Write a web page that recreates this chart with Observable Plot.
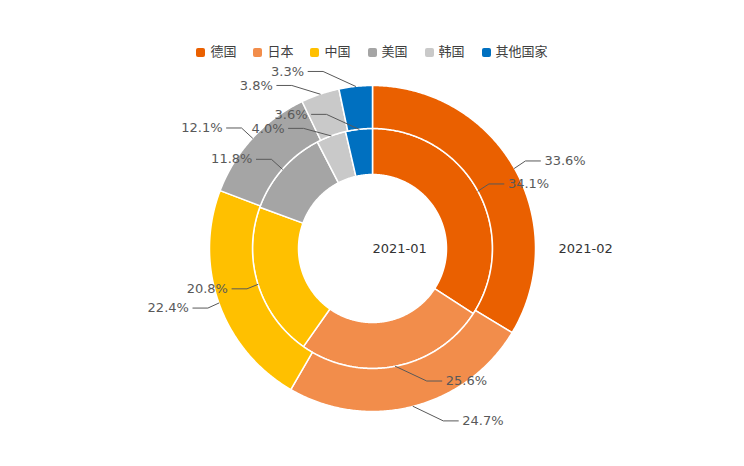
<!DOCTYPE html>
<html>
<head>
<meta charset="utf-8">
<script src="https://cdn.jsdelivr.net/npm/d3@7"></script>
<script src="https://cdn.jsdelivr.net/npm/@observablehq/plot@0.6"></script>
<style>
  html, body { margin: 0; padding: 0; background: #fff; }
  body { width: 744px; height: 466px; overflow: hidden; font-family: "DejaVu Sans", "Noto Sans CJK SC", sans-serif; }
  #legend { box-sizing: border-box; height: 62px; padding-top: 43px; display: flex; justify-content: center; align-items: flex-start; font-size: 13px; color: #404040; line-height: 18px; }
  #legend .item { display: flex; align-items: center; margin: 0 8.5px; }
  #legend .sw { width: 9px; height: 9px; border-radius: 2px; margin-right: 5px; }
  #chart svg { display: block; }
</style>
</head>
<body>
<div id="legend"></div>
<div id="chart"></div>
<script>
// ---- data ----
const countries = ["德国", "日本", "中国", "美国", "韩国", "其他国家"];
const colors = ["#EA6000", "#F28D4B", "#FFC000", "#A5A5A5", "#C9C9C9", "#0070C0"];
const seriesNames = ["2021-01", "2021-02"];
const values202101 = [34.1, 25.6, 20.8, 11.8, 4.0, 3.6];
const values202102 = [33.6, 24.7, 22.4, 12.1, 3.8, 3.3];

// ---- layout (style) ----
const W = 744, H = 404;
const cx = 372, cy = 186;
const rings = [
  {name: seriesNames[0], values: values202101, r0: 74, r1: 120},
  {name: seriesNames[1], values: values202102, r0: 120, r1: 163}
];
const leadOut = 15, hLen = 15, textGap = 4, minSpacing = 14;

// legend
const legend = document.getElementById("legend");
countries.forEach((c, i) => {
  const it = document.createElement("div");
  it.className = "item";
  it.innerHTML = `<span class="sw" style="background:${colors[i]}"></span><span>${c}</span>`;
  legend.appendChild(it);
});

// build geometry in data units (1 unit = 1 px, y up)
const polys = [];
const leaders = [];
const labelsR = [], labelsL = [];
rings.forEach((ring, ri) => {
  const total = d3.sum(ring.values);
  let acc = 0;
  const labs = [];
  ring.values.forEach((v, i) => {
    const a0 = acc / total * 2 * Math.PI;
    acc += v;
    const a1 = acc / total * 2 * Math.PI;
    const id = ri + "-" + i;
    const n = Math.max(4, Math.ceil((a1 - a0) / (Math.PI / 360)));
    const pts = [];
    for (let k = 0; k <= n; k++) {
      const a = a0 + (a1 - a0) * k / n;
      pts.push({id, country: countries[i], x: ring.r1 * Math.sin(a), y: ring.r1 * Math.cos(a)});
    }
    for (let k = n; k >= 0; k--) {
      const a = a0 + (a1 - a0) * k / n;
      pts.push({id, country: countries[i], x: ring.r0 * Math.sin(a), y: ring.r0 * Math.cos(a)});
    }
    pts.push({...pts[0]});
    polys.push(...pts);

    const am = (a0 + a1) / 2;
    const side = Math.sin(am) >= 0 ? 1 : -1;
    const ax = ring.r1 * Math.sin(am), ay = ring.r1 * Math.cos(am);
    const ly = (ring.r1 + leadOut) * Math.cos(am);
    const c = Math.abs(Math.cos(am));
    const dist = 30 + 22 * Math.max(0, (c - 0.75) / 0.25);
    labs.push({id, side, ax, ay, ly, dist, text: v.toFixed(1) + "%"});
  });
  // simple collision avoidance per side (push downward in screen = lower y value)
  [1, -1].forEach(s => {
    const group = labs.filter(d => d.side === s).sort((a, b) => b.ly - a.ly);
    for (let k = 1; k < group.length; k++) {
      if (group[k - 1].ly - group[k].ly < minSpacing) group[k].ly = group[k - 1].ly - minSpacing;
    }
  });
  labs.forEach(d => {
    const tx = d.ax + d.side * d.dist;
    const hx = tx - d.side * textGap;
    const ex = hx - d.side * hLen;
    leaders.push({id: d.id, x: d.ax, y: d.ay}, {id: d.id, x: ex, y: d.ly}, {id: d.id, x: hx, y: d.ly});
    (d.side > 0 ? labelsR : labelsL).push({x: tx, y: d.ly, text: d.text});
  });
});

const seriesLabels = [
  {x: 0, y: 0, text: seriesNames[0]},
  {x: rings[1].r1 + 23, y: 0, text: seriesNames[1]}
];

const chart = Plot.plot({
  width: W,
  height: H,
  margin: 0,
  style: {fontFamily: '"DejaVu Sans", "Noto Sans CJK SC", sans-serif', background: "transparent"},
  x: {domain: [-cx, W - cx], range: [0, W], axis: null},
  y: {domain: [-(H - cy), cy], range: [H, 0], axis: null},
  color: {domain: countries, range: colors},
  marks: [
    Plot.line(polys, {x: "x", y: "y", z: "id", fill: "country", stroke: "white", strokeWidth: 1.5, curve: "linear"}),
    Plot.line(leaders, {x: "x", y: "y", z: "id", stroke: "#595959", strokeWidth: 1}),
    Plot.text(labelsR, {x: "x", y: "y", text: "text", textAnchor: "start", fontSize: 13, fill: "#595959"}),
    Plot.text(labelsL, {x: "x", y: "y", text: "text", textAnchor: "end", fontSize: 13, fill: "#595959"}),
    Plot.text(seriesLabels, {x: "x", y: "y", text: "text", textAnchor: "start", fontSize: 13, fill: "#333333"})
  ]
});
document.getElementById("chart").appendChild(chart);
</script>
</body>
</html>
